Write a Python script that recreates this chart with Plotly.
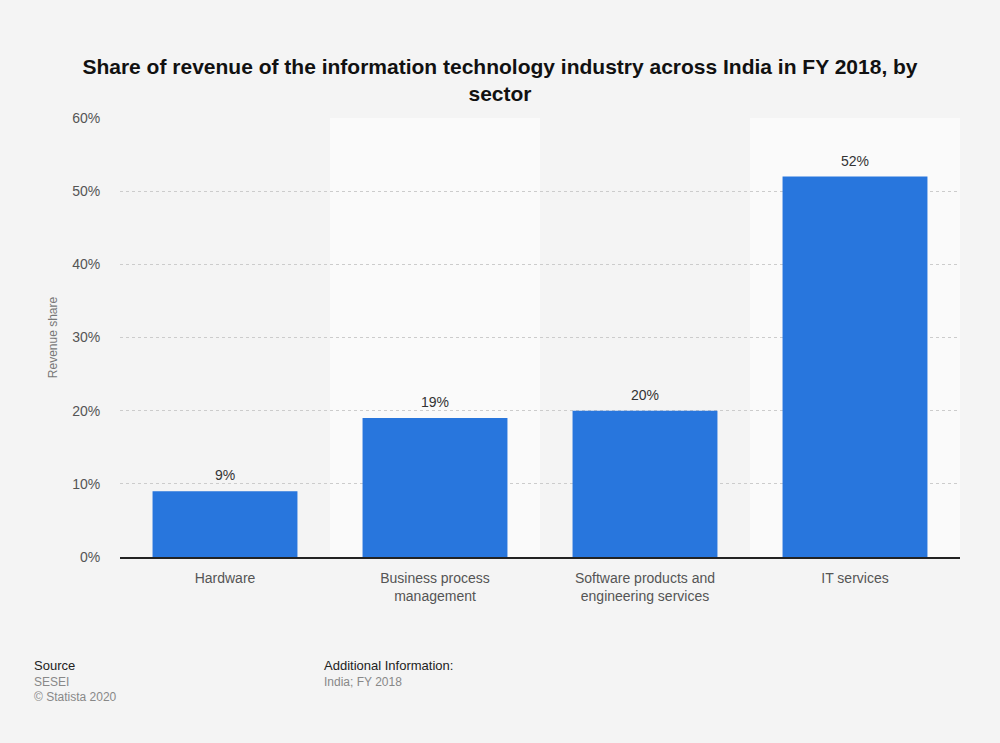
import plotly.graph_objects as go

# data
sectors = ["Hardware", "Business process<br>management",
           "Software products and<br>engineering services", "IT services"]
revenue_share = [9, 19, 20, 52]
y_ticks = [0, 10, 20, 30, 40, 50, 60]
y_tick_labels = [f"{t}%" for t in y_ticks]

font_family = "Liberation Sans, Arial, sans-serif"
bg = "#f4f4f4"

fig = go.Figure(go.Bar(
    x=list(range(len(sectors))),
    y=revenue_share,
    width=0.69,
    marker=dict(color="#2876dd", line=dict(width=0)),
))

# value labels above the bars
for i, v in enumerate(revenue_share):
    fig.add_annotation(x=i, y=v, text=f"{v}%", showarrow=False,
                       yanchor="bottom", yshift=6,
                       font=dict(size=14, color="#333333", family=font_family))

# alternating column bands
for i in range(len(sectors)):
    fig.add_shape(type="rect", xref="x", yref="paper",
                  x0=i - 0.5, x1=i + 0.5, y0=0, y1=1,
                  fillcolor="#fafafa" if i % 2 else bg,
                  line=dict(width=0), layer="below")

fig.update_layout(
    width=1000, height=743,
    paper_bgcolor=bg, plot_bgcolor=bg,
    margin=dict(l=120, r=40, t=118, b=186),
    showlegend=False,
    font=dict(family=font_family, color="#666666"),
    title=dict(
        text="<b>Share of revenue of the information technology industry across India in FY 2018, by<br>sector</b>",
        x=0.5, xanchor="center", y=0.901, yanchor="top",
        font=dict(size=21, color="#111111", family=font_family),
    ),
    xaxis=dict(
        tickmode="array", tickvals=list(range(len(sectors))), ticktext=sectors,
        range=[-0.5, len(sectors) - 0.5],
        showgrid=False, showline=True, linecolor="#222222", linewidth=1.5,
        ticks="outside", ticklen=7, tickcolor="rgba(0,0,0,0)",
        tickfont=dict(size=14, color="#555555"),
    ),
    yaxis=dict(
        range=[0, 60], tickmode="array", tickvals=y_ticks, ticktext=y_tick_labels,
        showgrid=True, gridcolor="#cccccc", griddash="dot", gridwidth=1,
        zeroline=False, ticks="outside", ticklen=16, tickcolor="rgba(0,0,0,0)",
        tickfont=dict(size=14, color="#555555"),
        title=dict(text="Revenue share", font=dict(size=12, color="#777777"), standoff=11),
    ),
)

fig.add_annotation(xref="paper", yref="paper", x=-0.105, y=-0.225, xanchor="left", yanchor="top",
                   showarrow=False, align="left",
                   text="<span style='color:#222222;font-size:13px'>Source</span><br>"
                        "<span style='color:#888888;font-size:12px'>SESEI</span><br>"
                        "<span style='color:#888888;font-size:12px'>© Statista 2020</span>")
fig.add_annotation(xref="paper", yref="paper", x=0.24, y=-0.225, xanchor="left", yanchor="top",
                   showarrow=False, align="left",
                   text="<span style='color:#222222;font-size:13px'>Additional Information:</span><br>"
                        "<span style='color:#888888;font-size:12px'>India; FY 2018</span>")

fig.write_html("out.html", config={"displayModeBar": False},
               post_script="document.body.style.margin='0';")
